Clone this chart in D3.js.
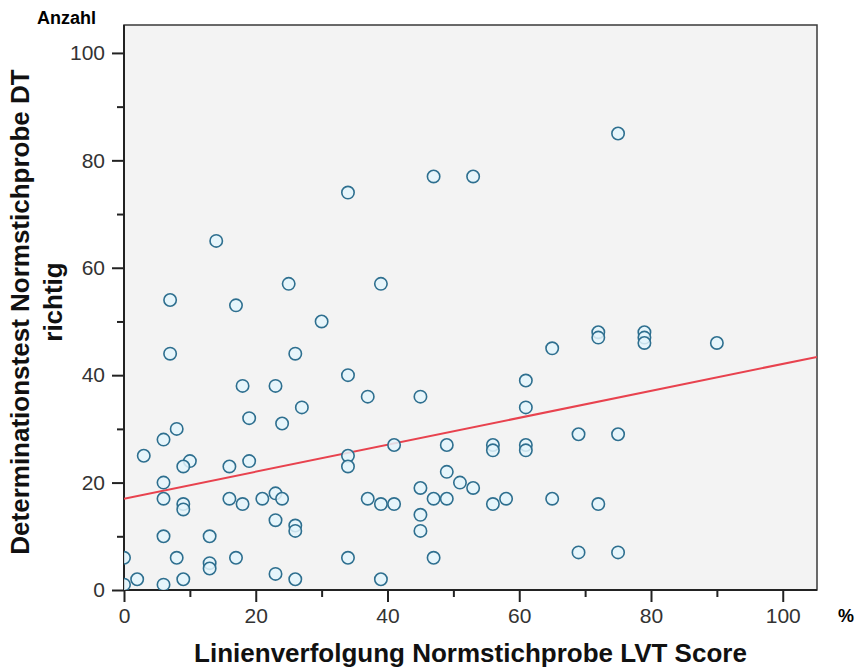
<!DOCTYPE html>
<html>
<head>
<meta charset="utf-8">
<script src="https://cdn.jsdelivr.net/npm/d3@7"></script>
<style>
  body { margin: 0; background: #fff; }
  text { font-family: "Liberation Sans", Arial, sans-serif; }
</style>
</head>
<body>
<svg id="chart" width="855" height="671"></svg>
<script>
// LVT score (x) against DT richtig (y)
const lvtScore = [7,17,30,7,26,34,18,23,37,27,45,19,24,8,6,3,10,9,16,19,34,34,41,6,6,9,9,16,18,21,23,24,37,39,41,23,26,26,6,13,0,8,13,13,17,34,2,6,9,23,26,39,0,
                  72,72,79,79,79,65,90,61,61,69,75,49,56,56,61,61,49,51,53,45,47,49,56,58,65,72,45,45,47,69,75,
                  34,14,25,39,75,47,53];
const dtRichtig = [54,53,50,44,44,40,38,38,36,34,36,32,31,30,28,25,24,23,23,24,25,23,27,20,17,16,15,17,16,17,18,17,17,16,16,13,12,11,10,10,6,6,5,4,6,6,2,1,2,3,2,2,1,
                   48,47,48,47,46,45,46,39,34,29,29,27,27,26,27,26,22,20,19,19,17,17,16,17,17,16,14,11,6,7,7,
                   74,65,57,57,85,77,77];
const majorTicks = [0, 20, 40, 60, 80, 100];
const minorTicks = [10, 30, 50, 70, 90];
// linear fit line (intercept, slope) as drawn in the original
const fitIntercept = 17.0;
const fitSlope     = 0.251;

const points = lvtScore.map((d, i) => ({x: d, y: dtRichtig[i]}));

const svg     = d3.select("#chart"),
      pLeft   = 124, pRight = 817, pTop = 25, pBottom = 590,
      xMax    = 105.2, yMax = 105.2,
      x       = d3.scaleLinear().domain([0, xMax]).range([pLeft, pRight]),
      y       = d3.scaleLinear().domain([0, yMax]).range([pBottom, pTop]);

svg.append("clipPath").attr("id", "plotclip")
  .append("rect")
    .attr("x", pLeft).attr("y", pTop)
    .attr("width", pRight - pLeft).attr("height", pBottom - pTop);

// plot background + frame
svg.append("rect")
    .attr("x", pLeft).attr("y", pTop)
    .attr("width", pRight - pLeft).attr("height", pBottom - pTop)
    .attr("fill", "#f3f3f3")
    .attr("stroke", "#3a3a3a")
    .attr("stroke-width", 1.5);

// axes
const styleAxis = g => {
  g.selectAll(".domain").remove();
  g.selectAll(".tick line").attr("stroke", "#222").attr("stroke-width", 2);
  g.selectAll(".tick text")
    .style("font-size", "21px")
    .style("font-family", "'Liberation Sans', Arial, sans-serif")
    .attr("fill", "#333");
};

svg.append("g")
    .attr("transform", `translate(${pLeft},0)`)
    .call(d3.axisLeft(y).tickValues(majorTicks).tickSize(12).tickPadding(7))
    .call(styleAxis);

svg.append("g")
    .attr("transform", `translate(${pLeft},0)`)
    .call(d3.axisLeft(y).tickValues(minorTicks).tickSize(7).tickFormat(""))
    .call(styleAxis);

svg.append("g")
    .attr("transform", `translate(0,${pBottom})`)
    .call(d3.axisBottom(x).tickValues(majorTicks).tickSize(12).tickPadding(6))
    .call(styleAxis);

svg.append("g")
    .attr("transform", `translate(0,${pBottom})`)
    .call(d3.axisBottom(x).tickValues(minorTicks).tickSize(7).tickFormat(""))
    .call(styleAxis);

// axis lines (thicker than the frame)
svg.append("line")
    .attr("x1", pLeft).attr("x2", pLeft).attr("y1", pTop).attr("y2", pBottom)
    .attr("stroke", "#222").attr("stroke-width", 2);
svg.append("line")
    .attr("x1", pLeft).attr("x2", pRight).attr("y1", pBottom).attr("y2", pBottom)
    .attr("stroke", "#222").attr("stroke-width", 2);

const plot = svg.append("g").attr("clip-path", "url(#plotclip)");

//fit line
plot.append("line")
    .attr("x1", x(0)).attr("y1", y(fitIntercept))
    .attr("x2", x(xMax)).attr("y2", y(fitIntercept + fitSlope * xMax))
    .attr("stroke", "#e8424e")
    .attr("stroke-width", 2);

//markers
plot.selectAll(".pt")
  .data(points)
  .enter().append("circle")
    .attr("class", "pt")
    .attr("cx", d => x(d.x))
    .attr("cy", d => y(d.y))
    .attr("r", 6.2)
    .attr("fill", "#e3f4fb")
    .attr("fill-opacity", 0.85)
    .attr("stroke", "#2e6f8f")
    .attr("stroke-width", 1.6);

//labels
svg.append("text")
    .attr("x", 37).attr("y", 24)
    .style("font-size", "18px")
    .style("font-weight", "bold")
    .text("Anzahl");

svg.append("text")
    .attr("x", 838).attr("y", 622)
    .style("font-size", "18px")
    .style("font-weight", "bold")
    .text("%");

svg.append("text")
    .attr("x", (pLeft + pRight) / 2)
    .attr("y", 662)
    .attr("text-anchor", "middle")
    .style("font-size", "26px")
    .style("font-weight", "bold")
    .attr("fill", "#111")
    .text("Linienverfolgung Normstichprobe LVT Score");

//y title, two lines
svg.append("text")
    .attr("transform", "translate(29,312) rotate(-90)")
    .attr("text-anchor", "middle")
    .style("font-size", "26px")
    .style("font-weight", "bold")
    .attr("fill", "#111")
    .text("Determinationstest Normstichprobe DT");
svg.append("text")
    .attr("transform", "translate(62,302) rotate(-90)")
    .attr("text-anchor", "middle")
    .style("font-size", "26px")
    .style("font-weight", "bold")
    .attr("fill", "#111")
    .text("richtig");
</script>
</body>
</html>
